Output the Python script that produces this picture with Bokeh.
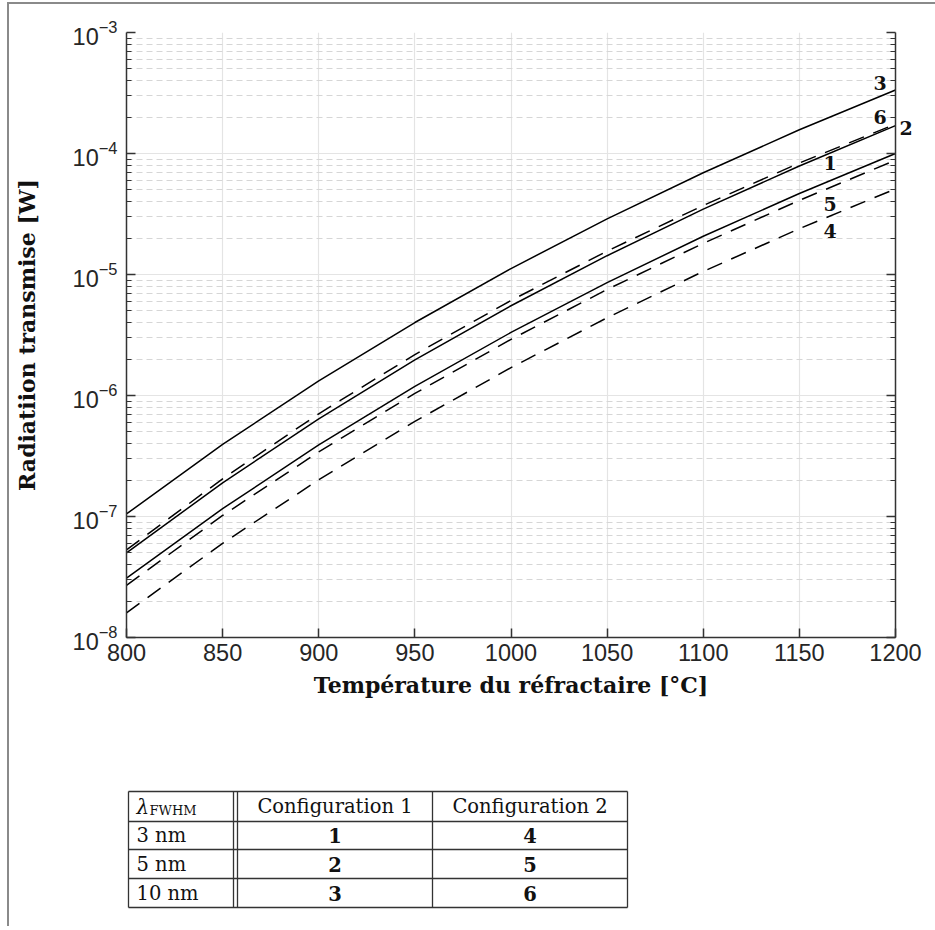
from bokeh.plotting import figure
from bokeh.models import (FixedTicker, LogTickFormatter, LogAxis, Label, Range1d,
                          CustomJSTickFormatter)
from bokeh.layouts import column
from bokeh.embed import file_html
from bokeh.resources import INLINE
from bokeh.core.properties import value

# ---------------- data ----------------
temperature = [800, 850, 900, 950, 1000, 1050, 1100, 1150, 1200]
curve_1 = [3.1e-8, 1.16e-7, 3.91e-7, 1.19e-6, 3.32e-6, 8.57e-6, 2.07e-5, 4.67e-5, 1.0e-4]
curve_2 = [5.0e-8, 1.90e-7, 6.41e-7, 1.97e-6, 5.52e-6, 1.43e-5, 3.47e-5, 7.89e-5, 1.70e-4]
curve_3 = [1.05e-7, 3.94e-7, 1.32e-6, 4.01e-6, 1.12e-5, 2.88e-5, 6.93e-5, 1.57e-4, 3.35e-4]
curve_4 = [1.6e-8, 6.0e-8, 2.01e-7, 6.11e-7, 1.70e-6, 4.39e-6, 1.06e-5, 2.39e-5, 5.1e-5]
curve_5 = [2.7e-8, 1.02e-7, 3.42e-7, 1.04e-6, 2.91e-6, 7.52e-6, 1.81e-5, 4.10e-5, 8.8e-5]
curve_6 = [5.3e-8, 2.05e-7, 7.06e-7, 2.18e-6, 6.10e-6, 1.56e-5, 3.72e-5, 8.34e-5, 1.75e-4]

label_text = ["1", "2", "3", "4", "5", "6"]
label_x = [1166, 1208, 1192, 1166, 1166, 1192]
label_y = [8.3e-5, 1.64e-4, 3.86e-4, 2.31e-5, 3.86e-5, 1.99e-4]

x_ticks = [800, 850, 900, 950, 1000, 1050, 1100, 1150, 1200]
y_major = [1e-8, 1e-7, 1e-6, 1e-5, 1e-4, 1e-3]

table_head = ["λ", "FWHM", "Configuration 1", "Configuration 2"]
table_fwhm = ["3 nm", "5 nm", "10 nm"]
table_conf1 = ["1", "2", "3"]
table_conf2 = ["4", "5", "6"]

# ---------------- chart ----------------
AX = "#333333"
p = figure(width=926, height=712, x_axis_type="linear", y_axis_type="log",
           x_range=Range1d(800, 1200), y_range=Range1d(1e-8, 1e-3),
           output_backend="svg", toolbar_location=None,
           min_border_left=117, min_border_right=40, min_border_top=28,
           min_border_bottom=79)
p.outline_line_color = None

y_minor = [k * m for m in y_major[:-1] for k in range(2, 10)]
yt = FixedTicker(ticks=y_major, minor_ticks=y_minor)
xt = FixedTicker(ticks=x_ticks)
p.xaxis.ticker = xt
p.yaxis.ticker = yt
p.yaxis.formatter = LogTickFormatter()

for ax in (p.xaxis[0], p.yaxis[0]):
    ax.axis_line_color = AX
    ax.axis_line_width = 1.5
    ax.major_tick_line_color = AX
    ax.minor_tick_line_color = AX
    ax.major_tick_line_width = 1.5
    ax.minor_tick_line_width = 1.2
    ax.major_tick_in = 9
    ax.major_tick_out = 0
    ax.minor_tick_in = 5
    ax.minor_tick_out = 0
    ax.major_label_text_font = "Liberation Sans"
    ax.major_label_text_font_size = "23.5px"
    ax.major_label_text_color = "#262626"
    ax.axis_label_text_font = "DejaVu Serif"
    ax.axis_label_text_font_style = "bold"
    ax.axis_label_text_font_size = "22px"
    ax.axis_label_text_color = "#111111"
p.xaxis.minor_tick_in = 0
p.xaxis.major_label_standoff = 6
p.yaxis.major_label_standoff = 9
p.xaxis.axis_label = "Température du réfractaire [°C]"
p.yaxis.axis_label = "Radiatiion transmise [W]"
p.xaxis.axis_label_standoff = 8
p.yaxis.axis_label_standoff = 30

right = LogAxis(ticker=yt, axis_line_color=AX, axis_line_width=1.5,
                major_tick_line_color=AX, minor_tick_line_color=AX,
                major_tick_line_width=1.5, minor_tick_line_width=1.2,
                major_tick_in=9, major_tick_out=0, minor_tick_in=5, minor_tick_out=0,
                major_label_text_font_size="2px", major_label_text_alpha=0,
                major_label_standoff=0)
p.add_layout(right, "right")

# curve label "2" sits outside the frame, drawn as a one-tick axis label
lab2 = LogAxis(ticker=FixedTicker(ticks=[label_y[1]]), axis_line_color=None,
               major_tick_line_color=None, minor_tick_line_color=None,
               major_tick_in=0, major_tick_out=0, minor_tick_in=0, minor_tick_out=0,
               formatter=CustomJSTickFormatter(args=dict(txt=label_text[1]), code="return txt"),
               major_label_text_font="DejaVu Serif", major_label_text_font_style="bold",
               major_label_text_font_size="19px", major_label_text_color="#111111",
               major_label_standoff=4)
p.add_layout(lab2, "right")

p.xgrid.grid_line_color = "#e4e4e4"
p.xgrid.grid_line_width = 1.2
p.ygrid.grid_line_color = "#e4e4e4"
p.ygrid.grid_line_width = 1.2
p.ygrid.minor_grid_line_color = "#d6d6d6"
p.ygrid.minor_grid_line_dash = "6 4"
p.ygrid.minor_grid_line_width = 1.0

solid = [curve_1, curve_2, curve_3]
dashed = [curve_4, curve_5, curve_6]
for c in solid:
    p.line(temperature, c, line_color="black", line_width=1.5)
for c in dashed:
    p.line(temperature, c, line_color="black", line_width=1.5, line_dash="16 10")

for i, (tx, lx, ly) in enumerate(zip(label_text, label_x, label_y)):
    if i == 1:
        continue
    p.add_layout(Label(x=lx, y=ly, text=tx, text_align="center", text_baseline="middle",
                       text_font="DejaVu Serif", text_font_style="bold",
                       text_font_size="19px", text_color="#111111"))

# ---------------- table ----------------
t = figure(width=926, height=210, x_range=Range1d(126, 895), y_range=Range1d(926, 716),
           output_backend="svg", toolbar_location=None, min_border=0,
           x_axis_type=None, y_axis_type=None)
t.outline_line_color = None
t.xgrid.visible = False
t.ygrid.visible = False

L, D1, D2, M, R = 128, 233, 237, 432, 627
rows_y = [791, 821, 849, 878, 907]
xs0 = [L, L, L, L, L, L, D1, D2, M, R]
xs1 = [R, R, R, R, R, L, D1, D2, M, R]
ys0 = rows_y + [rows_y[0]] * 5
ys1 = rows_y + [rows_y[-1]] * 5
t.segment(xs0, ys0, xs1, ys1, line_color="#333333", line_width=1.3)

FS = "19.5px"
mid = [(rows_y[i] + rows_y[i + 1]) / 2 for i in range(4)]
t.text([L + 8], [mid[0]], text=[table_head[0]], text_font=value("DejaVu Serif"),
       text_font_style="italic", text_font_size="20px", text_baseline="middle", text_color="#111111")
t.text([L + 21], [mid[0] + 4], text=[table_head[1]], text_font=value("DejaVu Serif"),
       text_font_size="13px", text_baseline="middle", text_color="#111111")
t.text([(D2 + M) / 2, (M + R) / 2], [mid[0], mid[0]], text=table_head[2:],
       text_font=value("DejaVu Serif"), text_font_size=FS, text_align="center",
       text_baseline="middle", text_color="#111111")
t.text([L + 8] * 3, mid[1:], text=table_fwhm, text_font=value("DejaVu Serif"),
       text_font_size=FS, text_baseline="middle", text_color="#111111")
t.text([(D2 + M) / 2] * 3, mid[1:], text=table_conf1, text_font=value("DejaVu Serif"),
       text_font_style="bold", text_font_size=FS, text_align="center",
       text_baseline="middle", text_color="#111111")
t.text([(M + R) / 2] * 3, mid[1:], text=table_conf2, text_font=value("DejaVu Serif"),
       text_font_style="bold", text_font_size=FS, text_align="center",
       text_baseline="middle", text_color="#111111")

layout = column(p, t, spacing=0,
                styles={"margin-left": "7px", "margin-top": "2px",
                        "border-left": "2px solid #8a8a8a", "border-top": "2px solid #8a8a8a"})
open("out.html", "w").write(file_html(layout, INLINE))
